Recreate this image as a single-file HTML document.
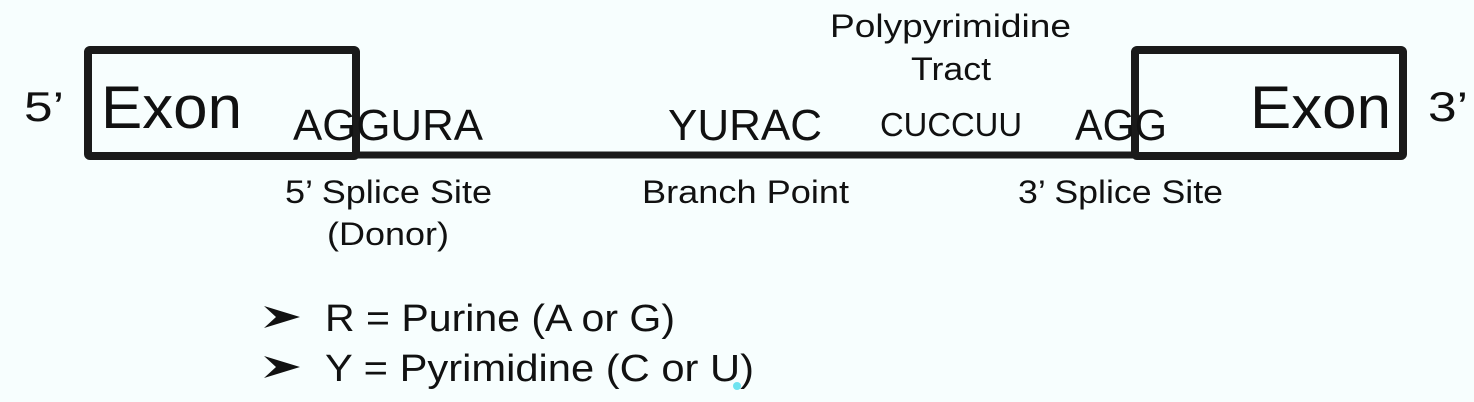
<!DOCTYPE html>
<html><head><style>
html,body{margin:0;padding:0;background:#f7fefe;}
svg{display:block}
text{font-family:"Liberation Sans",sans-serif;fill:#111;}
</style></head><body>
<svg width="1474" height="402" viewBox="0 0 1474 402">
<rect width="1474" height="402" fill="#f7fefe"/>
<g fill="none" stroke="#1a1a1a" stroke-width="8" stroke-linejoin="round">
<rect x="88" y="50" width="268" height="106" rx="2"/>
<rect x="1135" y="50" width="268" height="106" rx="2"/>
</g>
<line x1="356" y1="155" x2="1135" y2="155" stroke="#1a1a1a" stroke-width="7"/>
<text x="24" y="121" font-size="42" textLength="40" lengthAdjust="spacingAndGlyphs">5’</text>
<text x="101" y="128" font-size="60" textLength="141" lengthAdjust="spacingAndGlyphs">Exon</text>
<text x="293" y="140" font-size="44" textLength="190" lengthAdjust="spacingAndGlyphs">AGGURA</text>
<text x="668" y="140" font-size="44" textLength="154" lengthAdjust="spacingAndGlyphs">YURAC</text>
<text x="880" y="136" font-size="33" textLength="142" lengthAdjust="spacingAndGlyphs">CUCCUU</text>
<text x="1075" y="140" font-size="44" textLength="92" lengthAdjust="spacingAndGlyphs">AGG</text>
<text x="1250" y="128" font-size="60" textLength="141" lengthAdjust="spacingAndGlyphs">Exon</text>
<text x="1428" y="121" font-size="42" textLength="40" lengthAdjust="spacingAndGlyphs">3’</text>
<text x="830" y="37" font-size="32" textLength="241" lengthAdjust="spacingAndGlyphs">Polypyrimidine</text>
<text x="911" y="80" font-size="32" textLength="80" lengthAdjust="spacingAndGlyphs">Tract</text>
<text x="285" y="203" font-size="32" textLength="207" lengthAdjust="spacingAndGlyphs">5’ Splice Site</text>
<text x="327" y="245" font-size="32" textLength="122" lengthAdjust="spacingAndGlyphs">(Donor)</text>
<text x="642" y="203" font-size="32" textLength="207" lengthAdjust="spacingAndGlyphs">Branch Point</text>
<text x="1018" y="203" font-size="32" textLength="205" lengthAdjust="spacingAndGlyphs">3’ Splice Site</text>
<g fill="#111">
<path d="M264 306 L300 317 L264 328 L276 317 Z"/>
<path d="M264 356 L300 367 L264 378 L276 367 Z"/>
</g>
<text x="325" y="331" font-size="38" textLength="350" lengthAdjust="spacingAndGlyphs">R = Purine (A or G)</text>
<text x="325" y="381" font-size="38" textLength="429" lengthAdjust="spacingAndGlyphs">Y = Pyrimidine (C or U)</text>
<circle cx="737" cy="386" r="4" fill="#6fe3ef"/>
</svg>
</body></html>
